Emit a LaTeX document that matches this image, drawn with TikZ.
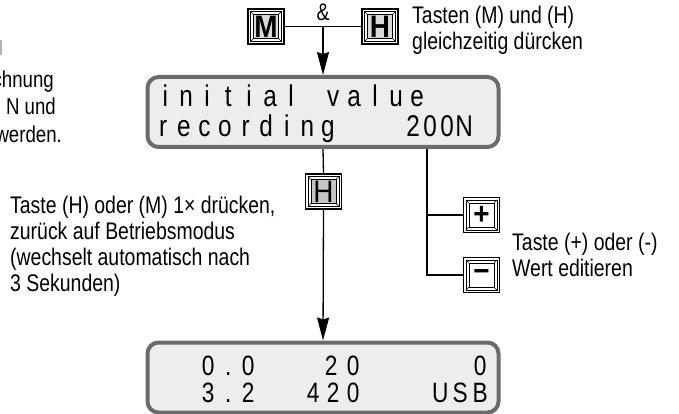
\documentclass[tikz,border=0pt]{standalone}
\usepackage{fontspec}
\setmainfont{Liberation Sans}[FakeStretch=0.81]
\newfontfamily\keyfont{Liberation Sans}[FakeStretch=0.9]
\usetikzlibrary{arrows.meta,backgrounds}

\definecolor{lcdframe}{HTML}{6B6B6B}
\definecolor{lcdface}{HTML}{EDEDED}
\definecolor{keytop}{HTML}{D9D9D9}
\definecolor{keymid}{HTML}{C6C6C6}

% fixed-pitch character cells for the LCD rows; '*' is an empty cell
\makeatletter
\newcommand\lcdrow[2]{\def\lcd@pitch{#1}\lcd@next#2\relax}
\def\lcd@next#1{\ifx\relax#1\else\makebox[\lcd@pitch][c]{\ifx*#1\else#1\fi}\expandafter\lcd@next\fi}
\makeatother

\tikzset{
  wire/.style={line width=1.3pt, black},
  flow/.style={wire, -{Stealth[length=23pt,width=12pt,inset=2pt]}},
  lcd/.style={rectangle, rounded corners=11pt, draw=lcdframe, line width=4pt,
    fill=lcdface, minimum width=351pt, minimum height=70pt, inner sep=0pt},
  lcdtext/.style={inner sep=0pt, anchor=base west, font=\fontsize{30}{30}\selectfont},
  lcdsmall/.style={lcdtext, font=\fontsize{28}{28}\selectfont},
  keycap/.style={rectangle, draw=black, line width=1.2pt, fill=white,
    minimum width=36pt, minimum height=35pt, inner sep=0pt,
    font=\keyfont\fontsize{31}{31}\selectfont,
    path picture={
      \draw[line width=0.6pt]
        ([shift={(2.3pt,2.3pt)}]path picture bounding box.south west) rectangle
        ([shift={(-2.3pt,-2.3pt)}]path picture bounding box.north east);
      \draw[line width=0.9pt, fill=#1]
        ([shift={(5.5pt,5.5pt)}]path picture bounding box.south west) rectangle
        ([shift={(-5.5pt,-5.5pt)}]path picture bounding box.north east);
      \draw[line width=0.6pt]
        ([shift={(2.3pt,2.3pt)}]path picture bounding box.south west) --
        ([shift={(5.5pt,5.5pt)}]path picture bounding box.south west)
        ([shift={(-2.3pt,-2.3pt)}]path picture bounding box.north east) --
        ([shift={(-5.5pt,-5.5pt)}]path picture bounding box.north east)
        ([shift={(2.3pt,-2.3pt)}]path picture bounding box.north west) --
        ([shift={(5.5pt,-5.5pt)}]path picture bounding box.north west)
        ([shift={(-2.3pt,2.3pt)}]path picture bounding box.south east) --
        ([shift={(-5.5pt,5.5pt)}]path picture bounding box.south east);
    }},
  keycap/.default=white,
  % multi-line notes are placed by the baseline of their last line
  note/.style={inner sep=0pt, align=left, anchor=base west,
    font=\fontsize{24}{26}\selectfont},
  frag/.style={inner sep=0pt, anchor=base east, font=\fontsize{23}{26}\selectfont},
}

\begin{document}
\begin{tikzpicture}[x=1pt, y=-1pt]
\useasboundingbox (0,0) rectangle (679,414);

% keys
\node[keycap=keytop] (kM) at (266,26.5) {\bfseries M};
\node[keycap=keytop] (kHt) at (380,26.5) {\bfseries H};
\node[keycap=keymid] (kHm) at (323.5,191.5) {H};
\node[keycap] (kPlus) at (481.5,215) {\bfseries +};
\node[keycap] (kMinus) at (481.5,275) {\bfseries −};

% displays
\node[lcd] (d1) at (323,112) {};
\node[lcd] (d2) at (323,377.5) {};

\node[lcdtext] (d1r1) at (154.5,107) {\lcdrow{21pt}{initial*value}};
\node[lcdtext] (d1r2a) at (152.7,137) {\lcdrow{20.6pt}{recording}};
\node[lcdtext] (d1r2b) at (404.5,137) {\lcdrow{17pt}{200N}};

\node[lcdsmall] (d2r1a) at (198,375) {\lcdrow{20pt}{0.0}};
\node[lcdsmall] (d2r1b) at (320,375) {\lcdrow{22pt}{20}};
\node[lcdsmall] (d2r1c) at (470,375) {\lcdrow{20pt}{0}};
\node[lcdsmall] (d2r2a) at (198,402) {\lcdrow{20pt}{3.2}};
\node[lcdsmall] (d2r2b) at (303,402) {\lcdrow{20pt}{420}};
\node[lcdsmall] (d2r2c) at (430,402) {\lcdrow{20pt}{USB}};

% connectors
\coordinate (jn) at (d1.north |- kM.east);
\coordinate (br) at (427,275);
\node[inner sep=0pt, anchor=base, font=\fontsize{24}{24}\selectfont] (amp) at (323,21) {\&};
\begin{scope}[on background layer]
  \draw[wire] (kM.east) -- (kHt.west);
  \draw[flow] (jn) -- (d1.north);
  \draw[wire] (d1.south) -- (kHm.north);
  \draw[flow] (kHm.south) -- (d2.north);
  \draw[wire] (d1.south -| br) -- (br) -- (kMinus.west);
  \draw[wire] (br |- kPlus.west) -- (kPlus.west);
\end{scope}

% notes
\node[note] (nTop) at (412,50) {Tasten (M) und (H)\\gleichzeitig dürcken};
\node[note] (nBack) at (10,291) {Taste (H) oder (M) 1× drücken,\\zurück auf Betriebsmodus\\(wechselt automatisch nach\\3 Sekunden)};
\node[note] (nEdit) at (512,276) {Taste (+) oder (-)\\Wert editieren};

% text running in from the left edge
\fill[gray!60] (0,40) rectangle (1.7,55);
\node[frag] (f1) at (54,88) {chnung};
\node[frag] (f2) at (56,115) {N und};
\node[frag] (f3) at (62,143) {werden.};
\end{tikzpicture}
\end{document}
